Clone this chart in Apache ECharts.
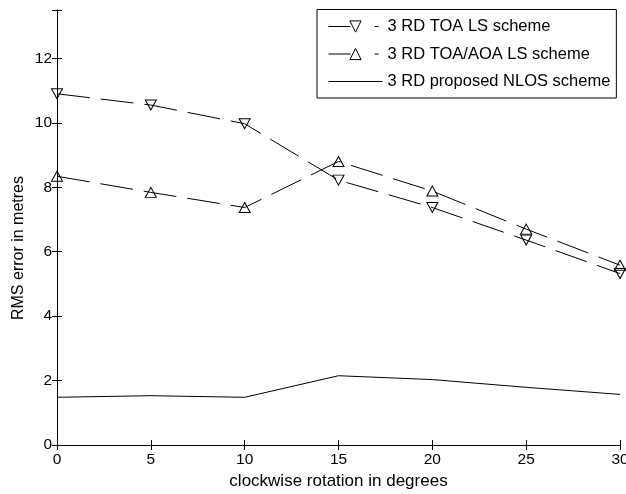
<!DOCTYPE html>
<html><head><meta charset="utf-8">
<script src="https://cdn.jsdelivr.net/npm/echarts@6/dist/echarts.min.js"></script>
<style>html,body{margin:0;padding:0;background:#fff}#c{width:626px;height:494px}</style>
</head><body><div id="c"></div>
<script>
var rotations = [0, 5, 10, 15, 20, 25, 30];
var toaLS = [10.9, 10.55, 9.97, 8.22, 7.37, 6.36, 5.32];
var toaAoaLS = [8.34, 7.84, 7.37, 8.8, 7.88, 6.7, 5.58];
var nlos = [1.48, 1.53, 1.48, 2.15, 2.03, 1.79, 1.57];
var names = ['3 RD TOA LS scheme', '3 RD TOA/AOA LS scheme', '3 RD proposed NLOS scheme'];
var xTicks = [0, 5, 10, 15, 20, 25, 30];
var yTicks = [0, 2, 4, 6, 8, 10, 12];
var xTitle = 'clockwise rotation in degrees';
var yTitle = 'RMS error in metres';

function pairs(v){ return rotations.map(function(x,i){ return [x, v[i]]; }); }
var FONT = 'Liberation Sans, Arial, sans-serif';
var chart = echarts.init(document.getElementById('c'), null, {renderer:'canvas'});
function base(){
  return {type:'value', axisLine:{show:true, lineStyle:{color:'#000', width:1}},
    axisTick:{show:true, inside:true, length:5, lineStyle:{color:'#000', width:1}},
    splitLine:{show:false}};
}
function xa(pos, labels){
  var a = base();
  a.position = pos; a.min = 0; a.max = 30; a.interval = 5;
  a.axisLabel = {show:labels, color:'#000', fontFamily:FONT, fontSize:15.5, margin:7,
      formatter:function(v){ return xTicks.indexOf(v)>=0 ? String(v) : ''; }};
  if (labels) {
    a.name = xTitle; a.nameLocation = 'middle'; a.nameGap = 28;
    a.nameTextStyle = {color:'#000', fontFamily:FONT, fontSize:17};
  }
  return a;
}
function ya(pos, labels){
  var a = base();
  a.position = pos; a.min = 0; a.max = 13.5; a.interval = 2;
  a.axisLabel = {show:labels, color:'#000', fontFamily:FONT, fontSize:15.5, margin:5,
      formatter:function(v){ return yTicks.indexOf(v)>=0 ? String(v) : ''; }};
  return a;
}
var mk = {color:'rgba(0,0,0,0)', borderColor:'#000', borderWidth:1};
chart.setOption({
  animation:false,
  backgroundColor:'#fff',
  grid:{left:57, right:6, top:10, bottom:49, containLabel:false, outerBoundsMode:'none'},
  xAxis:[xa('bottom', true), xa('top', false)],
  yAxis:[ya('left', true), ya('right', false)],
  graphic:[{type:'text', x:19, y:248, rotation:Math.PI/2,
    style:{text:yTitle, fill:'#000', font:'16px ' + FONT, textAlign:'center', textVerticalAlign:'middle'}}],
  legend:{
    orient:'vertical', left:317, top:9.5,
    backgroundColor:'#fff', borderColor:'#000', borderWidth:1,
    padding:[8.5, 6, 8, 11], itemGap:10.5, itemWidth:54, itemHeight:14,
    textStyle:{color:'#000', fontFamily:FONT, fontSize:16.5},
    data:[
      {name:names[0], lineStyle:{type:[22,24,4,30], width:1}, itemStyle:{color:'rgba(0,0,0,0)', borderColor:'#000', borderWidth:1}},
      {name:names[1], lineStyle:{type:[22,24,4,30], width:1}, itemStyle:{color:'rgba(0,0,0,0)', borderColor:'#000', borderWidth:1}},
      {name:names[2], lineStyle:{type:'solid', width:1}, itemStyle:{color:'rgba(0,0,0,0)', borderWidth:0}}
    ]
  },
  series:[
    {name:names[0], type:'line', data:pairs(toaLS), symbol:'triangle', symbolRotate:180,
     symbolSize:[11,10], showAllSymbol:true, itemStyle:mk,
     lineStyle:{color:'#000', width:1, type:[33,11]}},
    {name:names[1], type:'line', data:pairs(toaAoaLS), symbol:'triangle',
     symbolSize:[11,10], showAllSymbol:true, itemStyle:mk,
     lineStyle:{color:'#000', width:1, type:[33,11]}},
    {name:names[2], type:'line', data:pairs(nlos), symbol:'none', itemStyle:{color:'#000'},
     lineStyle:{color:'#000', width:1, type:'solid'}}
  ]
});
</script></body></html>
